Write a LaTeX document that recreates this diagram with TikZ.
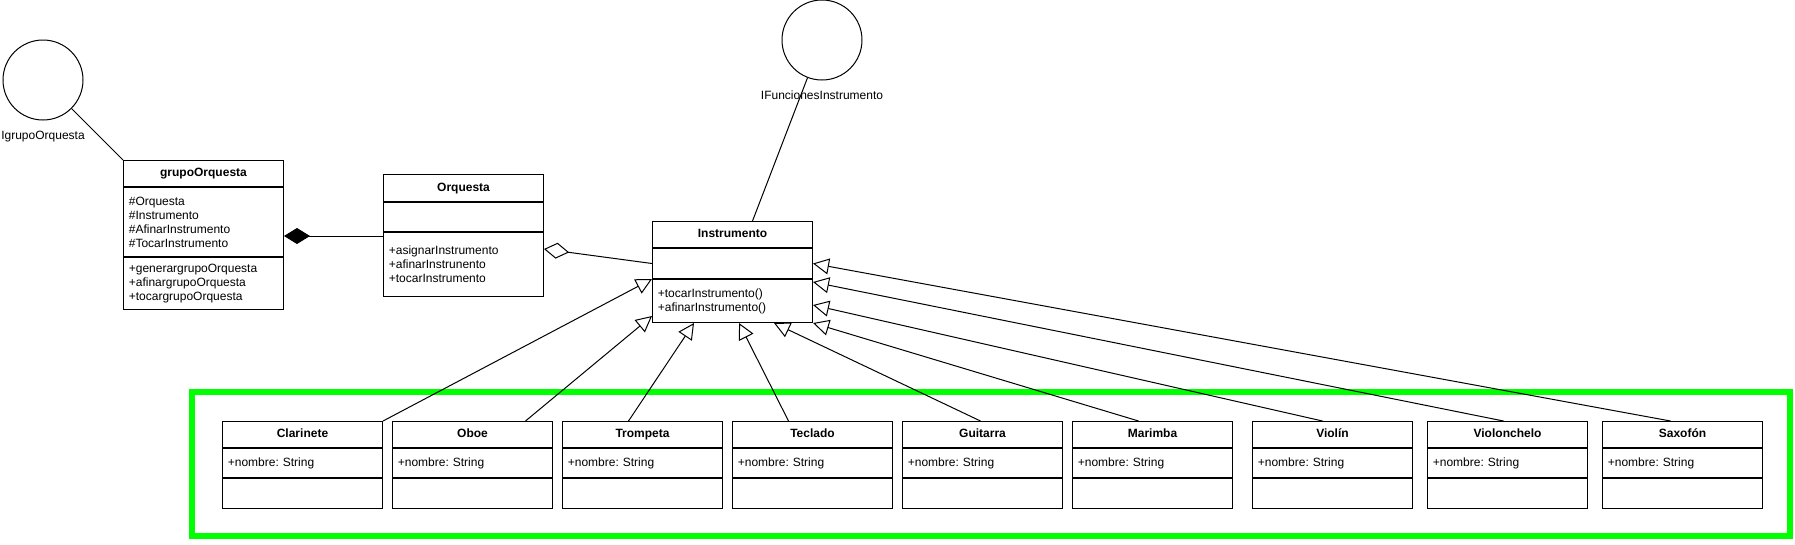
\documentclass[tikz,border=0pt]{standalone}
\usepackage{fontspec}
\setmainfont{Liberation Sans}
\usepackage{tikz}
\usetikzlibrary{positioning, arrows.meta, calc}
\definecolor{frameg}{RGB}{0,255,0}
\frenchspacing

\begin{document}
\begin{tikzpicture}[
        x=0.75pt, y=-0.75pt,
        line width=0.75pt,
        font=\fontsize{9}{10.5}\selectfont,
        % Styles for class boxes
        classhead/.style={
            rectangle, draw, minimum width=120pt, minimum height=19.5pt,
            inner sep=0pt, text height=6.8pt, text depth=2pt,
            font=\fontsize{9}{10.5}\selectfont\bfseries
        },
        classpart/.style={
            rectangle, draw, minimum width=120pt, text width=112pt,
            inner xsep=4pt, inner ysep=0pt, align=left
        },
        iface/.style={
            circle, draw, minimum size=60pt, inner sep=0pt
        },
        % Style for connecting lines
        conn/.style={
            draw
        },
        % UML arrow tips
        composite/.style={
            -{Diamond[length=19.5pt, width=12pt]}
        },
        aggregate/.style={
            -{Diamond[open, length=19pt, width=12pt]}
        },
        inherit/.style={
            -{Triangle[open, length=12pt, width=12pt]}
        },
        groupframe/.style={
            draw=frameg, line width=4pt
        }
    ]
    \useasboundingbox (0,0) rectangle (1795,544);

    % 1. MAIN CLASSES
    \node[classhead, anchor=north west] (grp) at (123,160) {grupoOrquesta};
    \node[classpart, below=0pt of grp, minimum height=51.75pt] (grp_a)
        {\#Orquesta\\\#Instrumento\\\#AfinarInstrumento\\\#TocarInstrumento};
    \node[classpart, below=0pt of grp_a, minimum height=39pt] (grp_o)
        {+generargrupoOrquesta\\+afinargrupoOrquesta\\+tocargrupoOrquesta};

    \node[classhead, anchor=north west, minimum height=20.25pt] (orq) at (383,174) {Orquesta};
    \node[classpart, below=0pt of orq, minimum height=21.75pt] (orq_a) {};
    \node[classpart, below=0pt of orq_a, minimum height=48pt] (orq_o)
        {+asignarInstrumento\\+afinarInstrunento\\+tocarInstrumento};

    \node[classhead, anchor=north west] (ins) at (652,221) {Instrumento};
    \node[classpart, below=0pt of ins, minimum height=22.5pt] (ins_a) {};
    \node[classpart, below=0pt of ins_a, minimum height=32.25pt] (ins_o)
        {+tocarInstrumento()\\+afinarInstrumento()};

    % 2. INTERFACES
    \node[iface] (igrp)   at (43,80)   {};
    \node        (igrp_l) at (43,137)  {IgrupoOrquesta};
    \node[iface] (ifun)   at (822,40)  {};
    \node        (ifun_l) at (822,95)  {IFuncionesInstrumento};

    % 3. SUBCLASSES
    \foreach \id/\title/\xpos in {clar/Clarinete/222, oboe/Oboe/392, trom/Trompeta/562,
            tecl/Teclado/732, guit/Guitarra/902, mari/Marimba/1072,
            viol/Violín/1252, vchl/Violonchelo/1427, saxo/Saxofón/1602}{
        \node[classhead, anchor=north west] (\id) at (\xpos,421) {\title};
        \node[classpart, below=0pt of \id, minimum height=21.75pt] (\id_a) {+nombre: String};
        \node[classpart, below=0pt of \id_a, minimum height=22.5pt] (\id_o) {};
    }

    \draw[groupframe] (192,392) rectangle (1790,536);

    % 4. CONNECTORS
    \draw[conn] (igrp) -- (grp.north west);
    \draw[conn] (ifun) -- ($(ins.north)+(20,0)$);

    % grupoOrquesta <>-- Orquesta
    \coordinate (compo) at ($(orq_o.north west)+(0,4)$);
    \draw[conn, composite] (compo) -- (compo -| grp_a.east);

    % Orquesta <>-- Instrumento
    \draw[conn, aggregate] (ins_a.west) -- ($(orq_o.north east)+(0,17)$);

    % Instrumento <|-- subclasses
    \draw[conn, inherit] (clar.north east)          -- (ins_o.north west);
    \draw[conn, inherit] ($(oboe.north)+(53,0)$)    -- ($(ins_o.south west)+(0,-7)$);
    \draw[conn, inherit] ($(trom.north)+(-14,0)$)   -- ($(ins_o.south west)+(42,0)$);
    \draw[conn, inherit] ($(tecl.north)+(-24,0)$)   -- ($(ins_o.south west)+(87,0)$);
    \draw[conn, inherit] ($(guit.north)+(-2,0)$)    -- ($(ins_o.south west)+(122,0)$);
    \draw[conn, inherit] ($(mari.north)+(-14,0)$)   -- (ins_o.south east);
    \draw[conn, inherit] ($(viol.north)+(-10,0)$)   -- ($(ins_o.south east)+(0,-18)$);
    \draw[conn, inherit] ($(vchl.north)+(-4,0)$)    -- ($(ins_o.north east)+(0,3)$);
    \draw[conn, inherit] ($(saxo.north)+(-12,0)$)   -- (ins_a.east);

\end{tikzpicture}
\end{document}
